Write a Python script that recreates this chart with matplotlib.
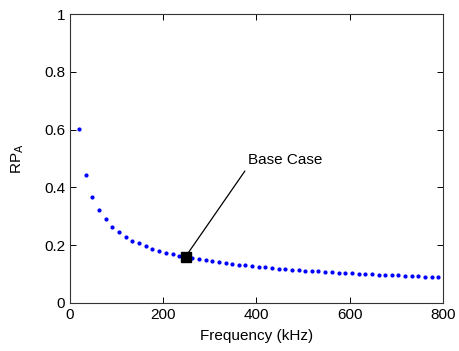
import matplotlib
matplotlib.use("Agg")
import matplotlib.pyplot as plt

plt.rcParams['font.family'] = ['Liberation Sans', 'DejaVu Sans']

freq_khz = [20, 34, 48, 63, 77, 91, 106, 120, 134, 148, 163, 177, 191, 205, 220,
            234, 248, 262, 277, 291, 305, 319, 334, 348, 362, 376, 391, 405, 419,
            433, 448, 462, 476, 491, 505, 519, 533, 548, 562, 576, 590, 605, 619,
            633, 647, 662, 676, 690, 704, 719, 733, 747, 761, 776, 790]
rp_a = [0.603, 0.442, 0.366, 0.322, 0.290, 0.264, 0.246, 0.229, 0.216, 0.206,
        0.197, 0.188, 0.181, 0.174, 0.168, 0.164, 0.160, 0.156, 0.151, 0.147,
        0.144, 0.141, 0.138, 0.135, 0.132, 0.130, 0.127, 0.125, 0.123, 0.121,
        0.119, 0.117, 0.115, 0.113, 0.112, 0.110, 0.109, 0.107, 0.106, 0.105,
        0.103, 0.102, 0.101, 0.100, 0.099, 0.098, 0.097, 0.096, 0.095, 0.094,
        0.093, 0.092, 0.091, 0.090, 0.088]
base_freq = 248
base_rp = 0.160
base_label = "Base Case"
xticks = [0, 200, 400, 600, 800]
yticks = [0, 0.2, 0.4, 0.6, 0.8, 1]
ytick_labels = ["0", "0.2", "0.4", "0.6", "0.8", "1"]

fig = plt.figure(figsize=(4.6, 3.51), dpi=100)
ax = fig.add_axes([0.152, 0.137, 0.811, 0.823])

ax.plot(freq_khz, rp_a, linestyle='none', marker='.', color='#0000ff', markersize=4)
ax.plot([base_freq], [base_rp], linestyle='none', marker='s', color='black', markersize=6.5)

ax.annotate(base_label, xy=(base_freq, base_rp), xytext=(381, 0.47),
            fontsize=11, ha='left', va='bottom',
            arrowprops=dict(arrowstyle='-', color='black', lw=0.9,
                            shrinkA=1, shrinkB=3, relpos=(0, 0)))

ax.set_xlim(0, 800)
ax.set_ylim(0, 1)
ax.set_xticks(xticks)
ax.set_yticks(yticks)
ax.set_yticklabels(ytick_labels)
ax.tick_params(direction='in', top=True, right=True, length=4, labelsize=11, width=0.7)
for s in ax.spines.values():
    s.set_linewidth(0.8)
    s.set_color('#333333')

ax.set_xlabel('Frequency (kHz)', fontsize=11, labelpad=5)
ax.set_ylabel(r'RP$_{\mathrm{A}}$', fontsize=11, labelpad=13)

fig.savefig('out.png', dpi=100)
